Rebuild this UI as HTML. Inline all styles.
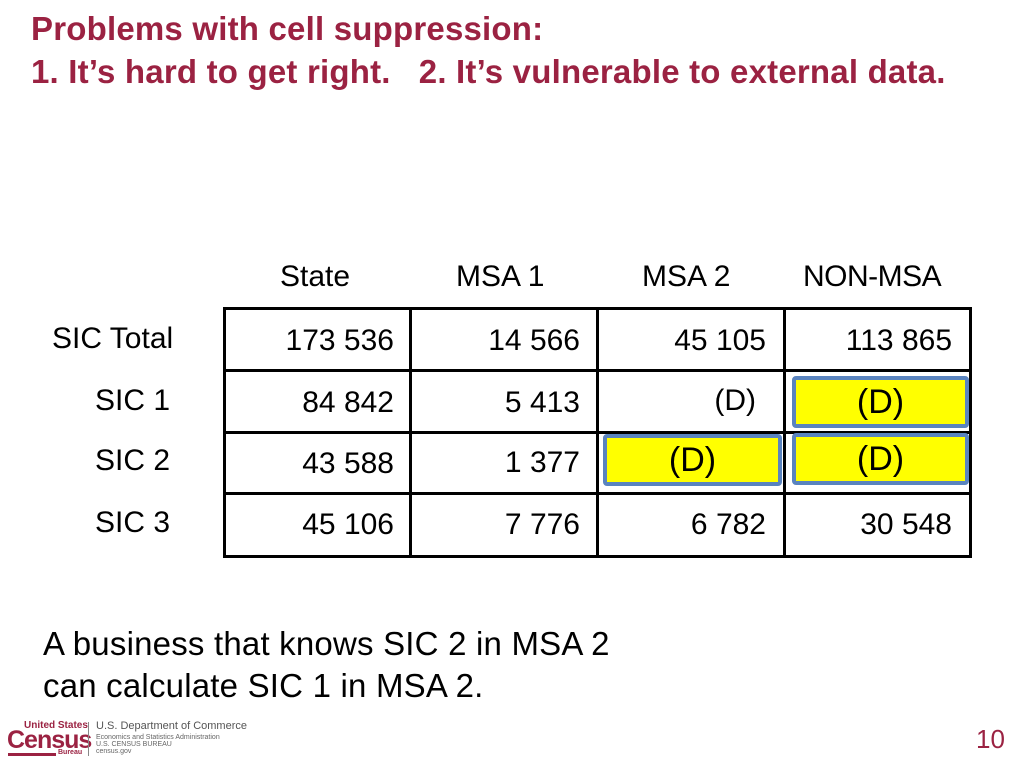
<!DOCTYPE html>
<html><head><meta charset="utf-8"><style>
body{margin:0;width:1024px;height:768px;background:#fff;position:relative;overflow:hidden;font-family:"Liberation Sans",sans-serif}
.a{position:absolute;white-space:nowrap}
.t{color:#9b2242;font-weight:bold;font-size:33px;left:31px;letter-spacing:0.2px}
.h{font-size:30px;top:260px;color:#000}
.r{font-size:30px;color:#000}
.n{font-size:30px;color:#000;text-align:right}
.hl{position:absolute;background:#000;height:3px}
.vl{position:absolute;background:#000;width:3px}
.y{position:absolute;background:#ffff00;border:4px solid #5a84bf;border-radius:4px;box-sizing:border-box;font-size:34px;text-align:center}
</style></head><body>
<div class="a t" style="top:10px">Problems with cell suppression:</div>
<div class="a t" style="top:53px">1. It’s hard to get right.&nbsp;&nbsp; 2. It’s vulnerable to external data.</div>

<div>
<div class="a h" style="left:280px">State</div>
<div class="a h" style="left:456px">MSA 1</div>
<div class="a h" style="left:642px">MSA 2</div>
<div class="a h" style="left:803px;letter-spacing:-0.5px">NON-MSA</div>

<div class="hl" style="left:223px;top:307px;width:749px"></div>
<div class="hl" style="left:223px;top:369px;width:749px"></div>
<div class="hl" style="left:223px;top:431px;width:749px"></div>
<div class="hl" style="left:223px;top:492px;width:749px"></div>
<div class="hl" style="left:223px;top:555px;width:749px"></div>
<div class="vl" style="left:223px;top:307px;height:251px"></div>
<div class="vl" style="left:409px;top:307px;height:251px"></div>
<div class="vl" style="left:596px;top:307px;height:251px"></div>
<div class="vl" style="left:783px;top:307px;height:251px"></div>
<div class="vl" style="left:969px;top:307px;height:251px"></div>

<div class="a r" style="left:52px;top:322px">SIC Total</div>
<div class="a r" style="left:95px;top:384px">SIC 1</div>
<div class="a r" style="left:95px;top:444px">SIC 2</div>
<div class="a r" style="left:95px;top:506px">SIC 3</div>

<div class="a n" style="right:630px;top:324px">173 536</div>
<div class="a n" style="right:444px;top:324px">14 566</div>
<div class="a n" style="right:258px;top:324px">45 105</div>
<div class="a n" style="right:72px;top:324px">113 865</div>

<div class="a n" style="right:630px;top:386px">84 842</div>
<div class="a n" style="right:444px;top:386px">5 413</div>
<div class="a n" style="right:268px;top:384px">(D)</div>

<div class="a n" style="right:630px;top:447px">43 588</div>
<div class="a n" style="right:444px;top:446px">1 377</div>

<div class="a n" style="right:630px;top:508px">45 106</div>
<div class="a n" style="right:444px;top:508px">7 776</div>
<div class="a n" style="right:258px;top:508px">6 782</div>
<div class="a n" style="right:72px;top:508px">30 548</div>

<div class="y" style="left:792px;top:376px;width:177px;height:52px;line-height:44px">(D)</div>
<div class="y" style="left:603px;top:434px;width:179px;height:52px;line-height:44px">(D)</div>
<div class="y" style="left:792px;top:433px;width:177px;height:52px;line-height:44px">(D)</div>
</div>

<div class="a" style="left:43px;top:625px;font-size:33px;letter-spacing:0.2px">A business that knows SIC 2 in MSA 2</div>
<div class="a" style="left:43px;top:667px;font-size:33px;letter-spacing:0.2px">can calculate SIC 1 in MSA 2.</div>

<div>
<div class="a" style="left:24px;top:720px;font-size:10px;font-weight:bold;color:#9b2242">United States</div>
<div class="a" style="left:7px;top:726px;font-size:25px;font-weight:bold;color:#9b2242;letter-spacing:-1px">Census</div>
<div class="a" style="left:8px;top:753px;width:48px;height:3px;background:#9b2242"></div>
<div class="a" style="left:58px;top:749px;font-size:7px;font-weight:bold;color:#9b2242">Bureau</div>
<div class="a" style="left:88px;top:722px;width:1px;height:34px;background:#888"></div>
<div class="a" style="left:96px;top:720px;font-size:11px;color:#555">U.S. Department of Commerce</div>
<div class="a" style="left:96px;top:734px;font-size:7px;color:#666">Economics and Statistics Administration</div>
<div class="a" style="left:96px;top:741px;font-size:7px;color:#666">U.S. CENSUS BUREAU</div>
<div class="a" style="left:96px;top:748px;font-size:7px;color:#666">census.gov</div>
</div>
<div class="a" style="left:976px;top:724px;font-size:26px;color:#9b2242">10</div>
</body></html>
